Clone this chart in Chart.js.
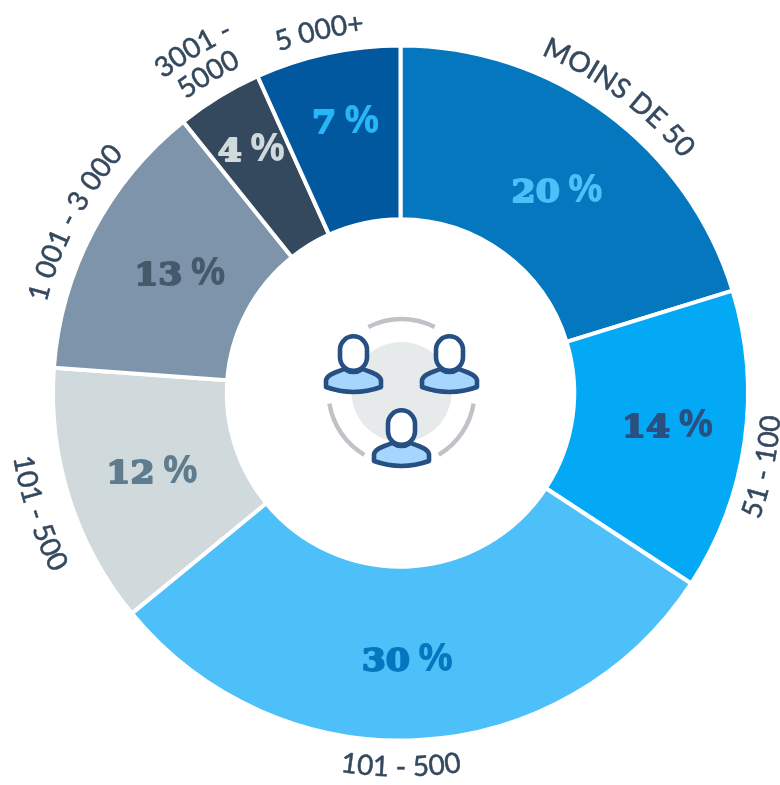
<!DOCTYPE html>
<html><head><meta charset="utf-8">
<style>html,body{margin:0;padding:0;background:#fff}canvas{display:block}</style>
<script src="https://cdn.jsdelivr.net/npm/chart.js@4/dist/chart.umd.min.js"></script>
</head><body><canvas id="c" width="780" height="785"></canvas>
<script>
const categories = ["MOINS DE 50","51 - 100","101 - 500","101 - 500","1 001 - 3 000","3001 -\n5000","5 000+"];
const values = [20.25,14,29.85,12.1,13.1,4,6.75];
const sliceColors = ["#0477BF","#04A9F5","#4DBFF9","#D0D9DC","#7E94AB","#34495E","#02589F"];
const valueColors = ["#4DBFF9","#2A5082","#0477BF","#5F7C8E","#46596B","#D0D9DC","#29B6F6"];
// small nudges of the text relative to the slice middle
const valueNudge = [[2,8.5],[9,-3],[-7,8],[0,1],[10,3],[-13,-20],[0,-15]];
const labelNudgeDeg = [0,3.45,3,-0.8,-0.2,0.4,-0.5];
const labelGap = [19,33,36,45,18,16,15];

const DEG = Math.PI/180;
function curved(ctx,text,cx,cy,r,mid,inward){
  const ws=[...text].map(ch=>ctx.measureText(ch).width);
  const total=ws.reduce((a,b)=>a+b,0);
  let pos=-total/2;
  [...text].forEach((ch,i)=>{
    const a=(pos+ws[i]/2)/r;
    ctx.save();
    const t=inward?mid-a:mid+a;
    ctx.translate(cx+r*Math.cos(t),cy+r*Math.sin(t));
    ctx.rotate(inward?t-Math.PI/2:t+Math.PI/2);
    ctx.textAlign="center";ctx.textBaseline="alphabetic";
    ctx.fillText(ch,0,0);ctx.strokeText(ch,0,0);
    ctx.restore();
    pos+=ws[i];
  });
}
function person(ctx,c,t){
  ctx.lineWidth=4.6;ctx.strokeStyle="#264F82";ctx.lineJoin="round";
  ctx.beginPath();
  ctx.moveTo(c-9,t+35);
  ctx.bezierCurveTo(c-16,t+38,c-26,t+40,c-27.5,t+46);
  ctx.lineTo(c-27.5,t+53);
  ctx.quadraticCurveTo(c,t+63,c+27.5,t+53);
  ctx.lineTo(c+27.5,t+46);
  ctx.bezierCurveTo(c+26,t+40,c+16,t+38,c+9,t+35);
  ctx.quadraticCurveTo(c,t+41,c-9,t+35);
  ctx.closePath();
  ctx.fillStyle="#A6D5FD";ctx.fill();ctx.stroke();
  ctx.beginPath();
  ctx.roundRect(c-13.5,t+2.3,27,34.5,13.5);
  ctx.fillStyle="#fff";ctx.fill();ctx.stroke();
}
const overlay={id:"overlay",afterDatasetsDraw(chart){
  const ctx=chart.ctx, meta=chart.getDatasetMeta(0);
  const cx=meta.data[0].x, cy=meta.data[0].y, R=meta.data[0].outerRadius;
  meta.data.forEach((arc,i)=>{
    const mid=(arc.startAngle+arc.endAngle)/2, rm=(arc.innerRadius+arc.outerRadius)/2;
    const x=cx+rm*Math.cos(mid)+valueNudge[i][0], y=cy+rm*Math.sin(mid)+valueNudge[i][1];
    const d=String(Math.round(values[i])), p="%";
    const dFont='bold 31px "DejaVu Serif"', pFont='bold 39px "Open Sans"', sx_=1.12;
    ctx.save();
    ctx.fillStyle=valueColors[i];ctx.strokeStyle=valueColors[i];
    ctx.textBaseline="middle";ctx.textAlign="left";
    ctx.font=dFont;
    const wd=ctx.measureText(d).width*sx_;
    ctx.font=pFont;
    const wp=ctx.measureText(p).width;
    const gap=8, sx=x-(wd+gap+wp)/2;
    ctx.font=pFont;
    ctx.fillText(p,sx+wd+gap,y-1);
    ctx.translate(sx,y+2);ctx.scale(sx_,1);
    ctx.font=dFont;ctx.lineWidth=1.8;ctx.lineJoin="round";
    ctx.fillText(d,0,0);ctx.strokeText(d,0,0);
    ctx.restore();
  });
  ctx.save();
  ctx.fillStyle="#34495E";ctx.strokeStyle="#34495E";ctx.lineWidth=0.5;
  ctx.font='28px Lato';
  meta.data.forEach((arc,i)=>{
    const mid=(arc.startAngle+arc.endAngle)/2+labelNudgeDeg[i]*DEG;
    const norm=((mid+Math.PI/2)%(2*Math.PI)+2*Math.PI)%(2*Math.PI);
    const inward=norm>Math.PI/2&&norm<Math.PI*1.5;
    const lines=categories[i].split("\n");
    lines.forEach((ln,k)=>{
      const r=R+labelGap[i]+(lines.length-1-k)*30;
      curved(ctx,ln,cx,cy,r,mid,inward);
    });
  });
  ctx.restore();
  ctx.save();
  ctx.fillStyle="#E7EAEB";ctx.beginPath();ctx.arc(cx+1,cy-1,50,0,2*Math.PI);ctx.fill();
  ctx.strokeStyle="#C1C2C7";ctx.lineWidth=4.4;
  [[243,297],[120.7,170.8],[9.2,59.3]].forEach(s=>{ctx.beginPath();ctx.arc(cx+1,cy-1,73,s[0]*DEG,s[1]*DEG);ctx.stroke();});
  person(ctx,cx-47,cy-59);person(ctx,cx+49,cy-59);person(ctx,cx+1,cy+15);
  ctx.restore();
}};
new Chart(document.getElementById("c"),{
  type:"doughnut",
  data:{labels:categories,datasets:[{data:values,backgroundColor:sliceColors,borderColor:"#fff",borderWidth:4,hoverOffset:0}]},
  plugins:[overlay],
  options:{responsive:false,animation:false,cutout:"50%",rotation:0,circumference:360,
    layout:{padding:{top:43.5,bottom:42.5,left:50,right:29}},
    plugins:{legend:{display:false},tooltip:{enabled:false}}}
});
</script></body></html>
